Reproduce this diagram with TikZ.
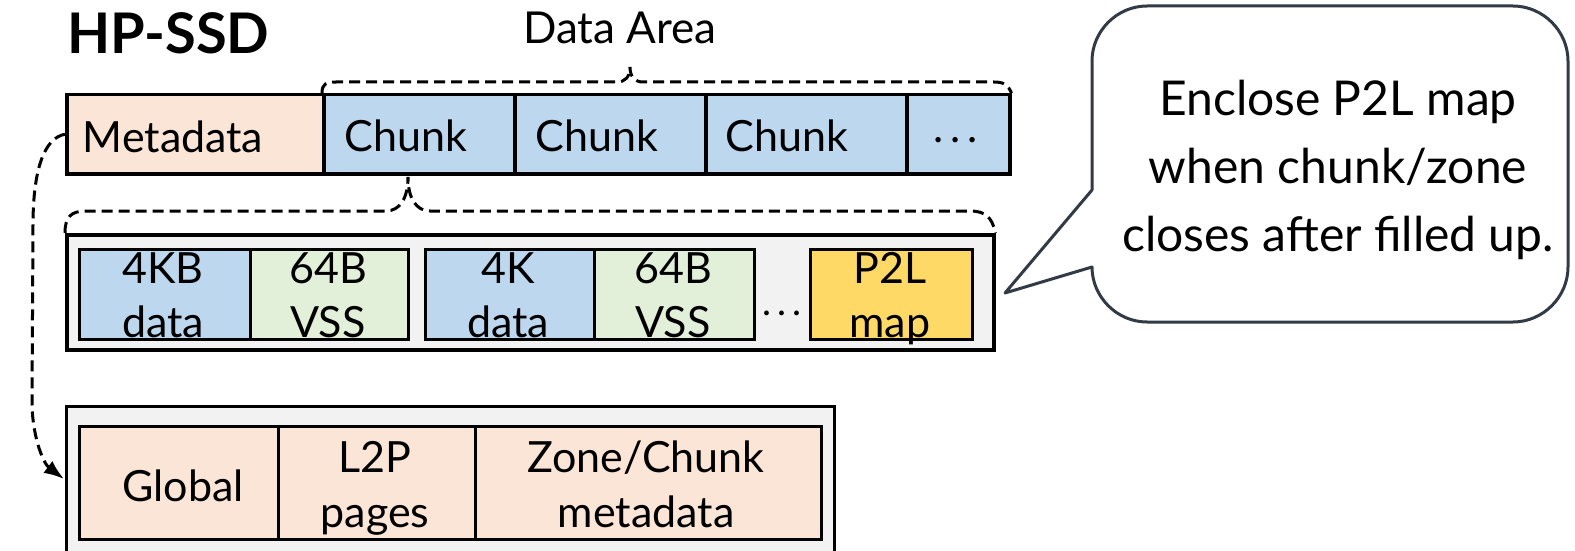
\documentclass[tikz,border=0pt]{standalone}
\usepackage{fontspec}
\setmainfont{Lato}
\usetikzlibrary{arrows.meta}
\definecolor{peach}{HTML}{FBE5D6}
\definecolor{chunkblue}{HTML}{BDD7EE}
\definecolor{vssgreen}{HTML}{E2F0D9}
\definecolor{mapyellow}{HTML}{FFD966}
\definecolor{panelgray}{HTML}{F2F2F2}
\definecolor{slate}{HTML}{323A46}
\newcommand{\spreaddots}{.\hspace{0.16em}.\hspace{0.16em}.}
\begin{document}
\begin{tikzpicture}[x=1pt,y=-1pt,
  cellbox/.style={draw=black, line width=#1, inner sep=0, anchor=north west},
  cellbox/.default=3.5,
  lbl/.style={inner sep=0, anchor=base, font=\fontsize{43}{52}\selectfont},
  dashline/.style={draw=black, line width=3, dash pattern=on 11pt off 6pt},
  callout/.style={draw=slate, line width=3, fill=white, line join=round}]
\useasboundingbox (0,0) rectangle (1575,551);

% title and area label
\node[inner sep=0, anchor=base west, font=\fontsize{56}{60}\selectfont\bfseries] (title) at (67,54) {HP-SSD};
\node[lbl, font=\fontsize{44}{52}\selectfont] (dataarea) at (620,44) {Data Area};

% device layout: metadata followed by chunks
\node[cellbox, fill=peach, minimum width=257, minimum height=79] (meta) at (65,93) {};
\node[cellbox, fill=chunkblue, minimum width=191, minimum height=79] (c1) at (322,93) {};
\node[cellbox, fill=chunkblue, minimum width=191, minimum height=79] (c2) at (513,93) {};
\node[cellbox, fill=chunkblue, minimum width=201, minimum height=79] (c3) at (704,93) {};
\node[cellbox, fill=chunkblue, minimum width=103, minimum height=79] (c4) at (905,93) {};
\node[lbl] (tmeta) at (173,152) {Metadata};
\node[lbl] (tc1) at (406,151) {Chunk};
\node[lbl] (tc2) at (597,151) {Chunk};
\node[lbl] (tc3) at (787,151) {Chunk};
\node[lbl] (tc4) at (956,142) {\spreaddots};

% brace over the data area
\coordinate (dapeak) at (630,67);
\draw[dashline] (c1.north west) .. controls (322,84) and (326,82) .. (336,82) -- (617,82)
  .. controls (625,82) and (630,77) .. (dapeak)
  .. controls (630,77) and (635,82) .. (643,82) -- (994,82)
  .. controls (1004,82) and (1008,85) .. (c4.north east);

% inside one chunk
\node[cellbox, fill=panelgray, minimum width=927, minimum height=115] (mid) at (65,233) {};
\node[cellbox=3, fill=chunkblue, minimum width=171, minimum height=90] (d1) at (78,248) {};
\node[cellbox=3, fill=vssgreen, minimum width=158, minimum height=90] (v1) at (249,248) {};
\node[cellbox=3, fill=chunkblue, minimum width=169, minimum height=90] (d2) at (424,248) {};
\node[cellbox=3, fill=vssgreen, minimum width=160, minimum height=90] (v2) at (593,248) {};
\node[cellbox=3, fill=mapyellow, minimum width=162, minimum height=90] (p2l) at (809,248) {};
\node[lbl] (td1a) at (163,283) {4KB};
\node[lbl] (td1b) at (163,337) {data};
\node[lbl] (tv1a) at (328,283) {64B};
\node[lbl] (tv1b) at (328,337) {VSS};
\node[lbl] (td2a) at (508,283) {4K};
\node[lbl] (td2b) at (508,337) {data};
\node[lbl] (tv2a) at (673,283) {64B};
\node[lbl] (tv2b) at (673,337) {VSS};
\node[lbl, font=\fontsize{38}{40}\selectfont] (tdots) at (782,315) {\spreaddots};
\node[lbl] (tpa) at (890,283) {P2L};
\node[lbl] (tpb) at (890,337) {map};

% brace from the first chunk down to its contents
\coordinate (cktip) at (408,177);
\draw[dashline] (mid.north west) .. controls (65,217) and (71,211) .. (86,211) -- (386,211)
  .. controls (400,211) and (408,198) .. (cktip)
  .. controls (408,198) and (416,211) .. (430,211) -- (970,211)
  .. controls (985,211) and (992,217) .. (mid.north east);

% metadata region
\node[cellbox=2.5, fill=panelgray, minimum width=768, minimum height=170] (bot) at (65,405) {};
\node[cellbox=2.5, fill=peach, minimum width=199, minimum height=113] (glob) at (78,425) {};
\node[cellbox=2.5, fill=peach, minimum width=197, minimum height=113] (l2p) at (277,425) {};
\node[cellbox=2.5, fill=peach, minimum width=346, minimum height=113] (zcm) at (474,425) {};
\node[lbl] (tg) at (183,501) {Global};
\node[lbl] (tla) at (375,472) {L2P};
\node[lbl] (tlb) at (375,527) {pages};
\node[lbl] (tza) at (646,472) {Zone/Chunk};
\node[lbl] (tzb) at (646,527) {metadata};

% metadata expands into the metadata region
\coordinate (metain) at (64,479);
\draw[dashline, -{Latex[length=20pt,width=15pt]}] (meta.west)
  .. controls (44,138) and (33,170) .. (33,225) -- (32,405)
  .. controls (33,440) and (44,464) .. (metain);

% note on the P2L map
\coordinate (notetip) at (1005,293);
\draw[callout] (notetip) -- (1092,190) -- (1092,61)
  .. controls (1092,31) and (1117,6) .. (1147,6) -- (1513,6)
  .. controls (1543,6) and (1568,31) .. (1568,61) -- (1568,267)
  .. controls (1568,297) and (1543,322) .. (1513,322) -- (1147,322)
  .. controls (1117,322) and (1092,297) .. (1092,267) -- cycle;
\node[inner sep=0, anchor=north, align=center, font=\fontsize{48}{68}\selectfont] (note) at (1338,80)
  {Enclose P2L map\\when chunk/zone\\closes after filled up.};
\end{tikzpicture}
\end{document}
